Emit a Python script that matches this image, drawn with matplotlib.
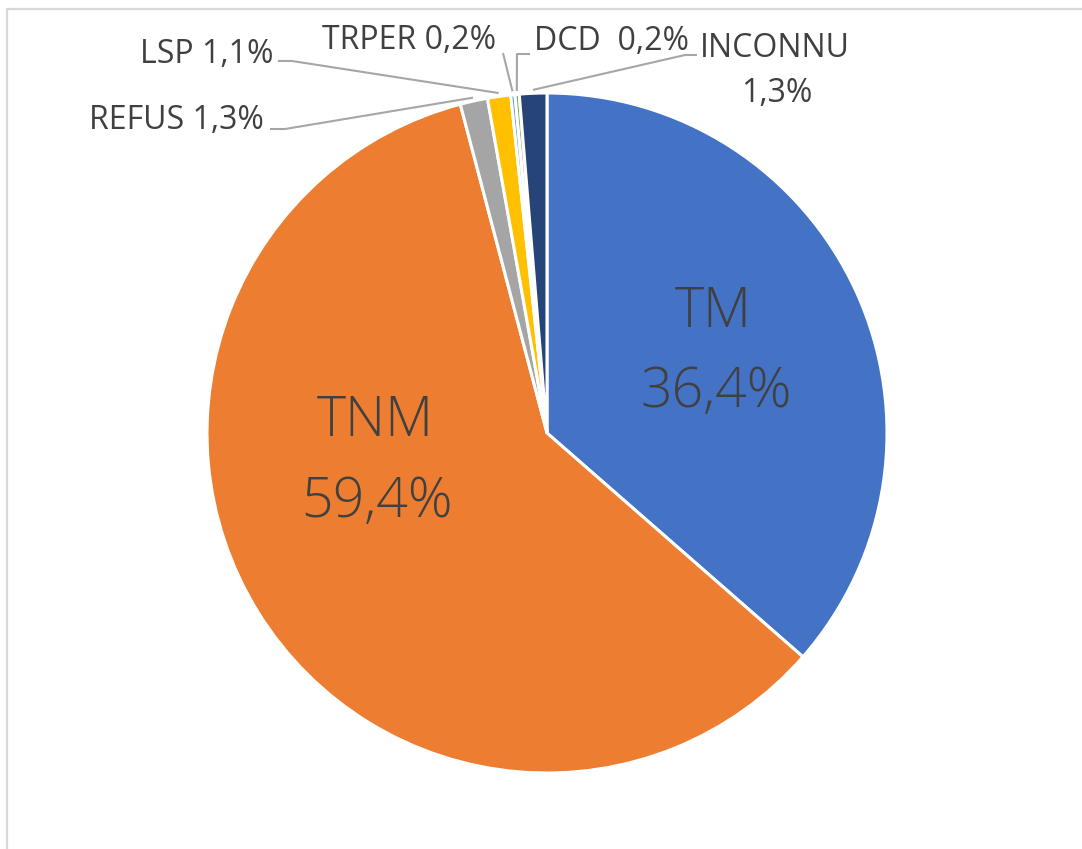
import numpy as np
import matplotlib.pyplot as plt
from matplotlib.patches import Rectangle

# data
categories = ['TM', 'TNM', 'REFUS', 'LSP', 'TRPER', 'DCD', 'INCONNU']
values = [36.4, 59.4, 1.3, 1.1, 0.2, 0.2, 1.3]
label_text = ['TM', 'TNM', 'REFUS 1,3%', 'LSP 1,1%', 'TRPER 0,2%', 'DCD  0,2%', 'INCONNU']
colours = ['#4472C4', '#ED7D31', '#A5A5A5', '#FFC000', '#5B9BD5', '#70AD47', '#264478']

W, H = 1082, 849
plt.rcParams['font.family'] = ['Open Sans', 'DejaVu Sans']
text_col = '#404040'
line_col = '#A6A6A6'

fig = plt.figure(figsize=(W / 100, H / 100), dpi=100)
ax = fig.add_axes([0, 0, 1, 1])

# chart area border
fig.patches.append(Rectangle((7 / W, -0.1), 1.2, (H - 9) / H + 0.1, transform=fig.transFigure,
                             fill=False, edgecolor='#D9D9D9', linewidth=1.6))

cx, cy, r = 547, H - 433, 340
wedges, _ = ax.pie(values, colors=colours, startangle=90, counterclock=False,
                   center=(cx, cy), radius=r, frame=True,
                   wedgeprops=dict(edgecolor='white', linewidth=2.2))
ax.set_xlim(0, W)
ax.set_ylim(0, H)
ax.axis('off')


def py(y):
    return H - y


def wedge_point(i, f=1.01):
    w = wedges[i]
    a = np.deg2rad((w.theta1 + w.theta2) / 2)
    return cx + r * f * np.cos(a), cy + r * f * np.sin(a)


# big labels inside the two main slices
big = 40
kw = dict(ha='center', va='baseline', color=text_col)
ax.text(713, py(327), 'TM', fontsize=big, fontweight='light', **kw)
ax.text(716, py(407), '36,4%', fontsize=big, fontweight='light', **kw)
ax.text(375, py(436), 'TNM', fontsize=big, fontweight='light', **kw)
ax.text(377, py(517), '59,4%', fontsize=big, fontweight='light', **kw)

# small outside labels: (index, text center x, baseline y, leader points near label)
small = 23
outside = [
    (2, 176, 129, [(270, 129), (285, 129)]),
    (3, 207, 63, [(278, 61), (292, 61)]),
    (4, 409, 49, [(503, 53)]),
    (5, 611, 50, [(530, 54), (517, 54)]),
    (6, 775, 57, [(697, 55), (685, 55)]),
]
for i, x, yb, pts in outside:
    ax.text(x, py(yb), label_text[i], fontsize=small, **kw)
    xs = [p[0] for p in pts]
    ys = [py(p[1]) for p in pts]
    ex, ey = wedge_point(i)
    xs.append(ex)
    ys.append(ey)
    ax.plot(xs, ys, color=line_col, linewidth=1.5, solid_capstyle='butt')

ax.text(777, py(102), '1,3%', fontsize=small, **kw)

fig.savefig('out.png', dpi=100)
